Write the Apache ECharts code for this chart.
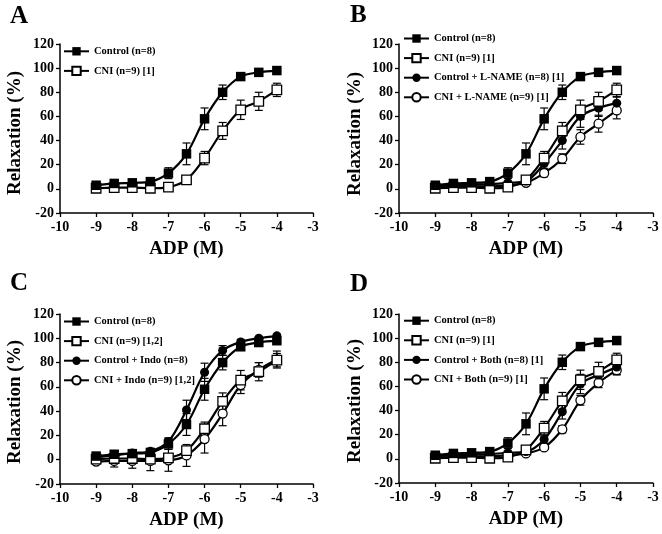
<!DOCTYPE html>
<html>
<head>
<meta charset="utf-8">
<script src="https://cdn.jsdelivr.net/npm/echarts@6/dist/echarts.min.js"></script>
<style>
html,body{margin:0;padding:0;background:#fff;}
#chart{width:662px;height:534px;}
</style>
</head>
<body>
<div id="chart"></div>
<script>
// ---- data (log[ADP] in M, relaxation in %) ----
const doses = [-9, -8.5, -8, -7.5, -7, -6.5, -6, -5.5, -5, -4.5, -4];
const panelLetters = ['A', 'B', 'C', 'D'];

const control      = [3, 4.5, 5, 6, 13, 29, 58, 80, 93, 96.5, 98];
const controlErr   = [1, 1, 1, 1.5, 4.5, 9, 9, 6, 2.5, 1.5, 1.5];
const cni          = [0.5, 1, 1, 0.5, 1.5, 7.5, 25.5, 48, 65.5, 72.5, 82];
const cniErr       = [1, 1, 1, 1, 2, 3, 5.5, 7, 8, 7.5, 5.5];
const ctrlLname    = [2, 3, 3.5, 4, 5, 6.5, 21, 40, 60, 67, 71];
const ctrlLnameErr = [1, 1, 1, 1, 1.5, 2, 4, 7, 9, 7, 5];
const cniLname     = [1, 1.5, 2, 2, 3, 5, 13, 25, 43, 54, 65];
const cniLnameErr  = [1, 1, 1, 1, 1, 1.5, 3, 4, 6, 7, 7];
const ctrlIndo     = [2, 3.5, 5.5, 7, 15, 41, 72, 90, 97, 100, 102];
const ctrlIndoErr  = [1, 1, 1, 1.5, 3, 8, 7.5, 4, 2, 1.5, 1.5];
const cniIndo      = [-1.5, -1, -1, -1, -0.5, 3.5, 17, 38, 61.5, 74, 82.5];
const cniIndoErr   = [2, 5, 6, 8, 9, 9, 11.5, 10, 7, 6, 7];
const ctrlBoth     = [2, 3, 3.5, 4, 5, 6, 16, 39, 62, 69.5, 76];
const ctrlBothErr  = [1, 1, 1, 1, 1.5, 2, 3, 6, 8, 6, 6];
const cniBoth      = [1, 1.5, 2, 2, 3, 4.5, 9.5, 24.5, 48.5, 63, 73.5];
const cniBothErr   = [1, 1, 1, 1, 1, 1.5, 2, 3, 4, 4, 4];

const namesA = ['Control (n=8)', 'CNI (n=9) [1]'];
const namesB = ['Control (n=8)', 'CNI (n=9) [1]', 'Control + L-NAME (n=8) [1]', 'CNI + L-NAME (n=9) [1]'];
const namesC = ['Control (n=8)', 'CNI (n=9) [1,2]', 'Control + Indo (n=8)', 'CNI + Indo (n=9) [1,2]'];
const namesD = ['Control (n=8)', 'CNI (n=9) [1]', 'Control + Both (n=8) [1]', 'CNI + Both (n=9) [1]'];

const xMin = -10, xMax = -3, xStep = 1;
const yMin = -20, yMax = 120, yStep = 20;
const xTitle = 'ADP (M)';
const yTitle = 'Relaxation (%)';

// ---- layout ----
const FONT = '"Liberation Serif", "Times New Roman", serif';
const grids = [
  {left: 60, top: 44, width: 253, height: 169},
  {left: 399, top: 44, width: 254, height: 169},
  {left: 60, top: 314, width: 253, height: 170},
  {left: 399, top: 314, width: 254, height: 169}
];
const legendPos = [
  {left: 63, top: 45.8},
  {left: 403, top: 33},
  {left: 63, top: 316},
  {left: 403, top: 315.2}
];
const legendGap = 8.6;
const letterPos = [[10, 18], [350, 17], [10, 285], [350, 286]];
const yTitlePos = [[15, 133], [355.5, 134], [15, 402], [355.5, 401]];

const axisLineStyle = {color: '#000', width: 1.5};

const xAxes = grids.map((g, i) => ({
  gridIndex: i, type: 'value', min: xMin, max: xMax, interval: xStep,
  axisLine: {show: true, onZero: false, lineStyle: axisLineStyle},
  axisTick: {show: true, length: 4, lineStyle: {color: '#000', width: 1.3}},
  axisLabel: {color: '#000', fontFamily: FONT, fontWeight: 'bold', fontSize: 14, margin: 7},
  splitLine: {show: false},
  name: xTitle, nameLocation: 'middle', nameGap: 27,
  nameTextStyle: {color: '#000', fontFamily: FONT, fontWeight: 'bold', fontSize: 19}
}));
const yAxes = grids.map((g, i) => ({
  gridIndex: i, type: 'value', min: yMin, max: yMax, interval: yStep,
  axisLine: {show: true, onZero: false, lineStyle: axisLineStyle},
  axisTick: {show: true, length: 4, lineStyle: {color: '#000', width: 1.3}},
  axisLabel: {color: '#000', fontFamily: FONT, fontWeight: 'bold', fontSize: 14, margin: 6},
  splitLine: {show: false}
}));

function pairs(vals) { return doses.map((d, k) => [d, vals[k]]); }
function errPairs(vals, errs) { return doses.map((d, k) => [d, vals[k] - errs[k], vals[k] + errs[k]]); }

function lineSeries(name, vals, idx, symbol, filled, z) {
  return {
    name: name, type: 'line', xAxisIndex: idx, yAxisIndex: idx,
    data: pairs(vals), smooth: 0.35, symbol: symbol, symbolSize: symbol === 'rect' ? 9.5 : 9,
    showAllSymbol: true, z: z,
    lineStyle: {color: '#000', width: 2.2},
    itemStyle: {color: filled ? '#000' : '#fff', borderColor: '#000', borderWidth: filled ? 0 : 1.3},
    emphasis: {disabled: true}, animation: false
  };
}
function errSeries(vals, errs, idx) {
  return {
    type: 'custom', xAxisIndex: idx, yAxisIndex: idx, z: 1, silent: true,
    data: errPairs(vals, errs), encode: {x: 0, y: [1, 2]},
    renderItem: function (params, api) {
      const lo = api.coord([api.value(0), api.value(1)]);
      const hi = api.coord([api.value(0), api.value(2)]);
      const w = 4;
      const st = {stroke: '#000', lineWidth: 1.2};
      return {type: 'group', children: [
        {type: 'line', shape: {x1: lo[0], y1: lo[1], x2: hi[0], y2: hi[1]}, style: st},
        {type: 'line', shape: {x1: lo[0] - w, y1: lo[1], x2: lo[0] + w, y2: lo[1]}, style: st},
        {type: 'line', shape: {x1: hi[0] - w, y1: hi[1], x2: hi[0] + w, y2: hi[1]}, style: st}
      ]};
    },
    animation: false
  };
}

const panels = [
  [[namesA[0], control, controlErr, 'rect', true], [namesA[1], cni, cniErr, 'rect', false]],
  [[namesB[0], control, controlErr, 'rect', true], [namesB[1], cni, cniErr, 'rect', false],
   [namesB[2], ctrlLname, ctrlLnameErr, 'circle', true], [namesB[3], cniLname, cniLnameErr, 'circle', false]],
  [[namesC[0], control, controlErr, 'rect', true], [namesC[1], cni, cniErr, 'rect', false],
   [namesC[2], ctrlIndo, ctrlIndoErr, 'circle', true], [namesC[3], cniIndo, cniIndoErr, 'circle', false]],
  [[namesD[0], control, controlErr, 'rect', true], [namesD[1], cni, cniErr, 'rect', false],
   [namesD[2], ctrlBoth, ctrlBothErr, 'circle', true], [namesD[3], cniBoth, cniBothErr, 'circle', false]]
];

const series = [];
panels.forEach((p, i) => {
  p.forEach((s, j) => {
    series.push(errSeries(s[1], s[2], i));
    series.push(lineSeries(s[0], s[1], i, s[3], s[4], 3 + (p.length - j)));
  });
});

const legendNames = [namesA, namesB, namesC, namesD];
const legends = legendNames.map((names, i) => ({
  orient: 'vertical', left: legendPos[i].left, top: legendPos[i].top, padding: 0,
  itemGap: legendGap, itemWidth: 25, itemHeight: 10.5,
  data: names, selectedMode: false,
  textStyle: {color: '#000', fontFamily: FONT, fontWeight: 'bold', fontSize: 10.5, lineHeight: 10.5}
}));

const graphics = panelLetters.map((t, i) => ({
  type: 'text', left: letterPos[i][0], top: letterPos[i][1] - 14,
  style: {text: t, fill: '#000', font: 'bold 25px ' + FONT}
})).concat(yTitlePos.map(p => ({
  type: 'text', x: p[0], y: p[1], rotation: Math.PI / 2,
  style: {text: yTitle, fill: '#000', font: 'bold 19px ' + FONT, textAlign: 'center', textVerticalAlign: 'middle'}
})));

const chart = echarts.init(document.getElementById('chart'), null, {renderer: 'canvas'});
chart.setOption({
  backgroundColor: '#fff',
  animation: false,
  grid: grids,
  xAxis: xAxes,
  yAxis: yAxes,
  legend: legends,
  graphic: graphics,
  series: series
});
</script>
</body>
</html>
